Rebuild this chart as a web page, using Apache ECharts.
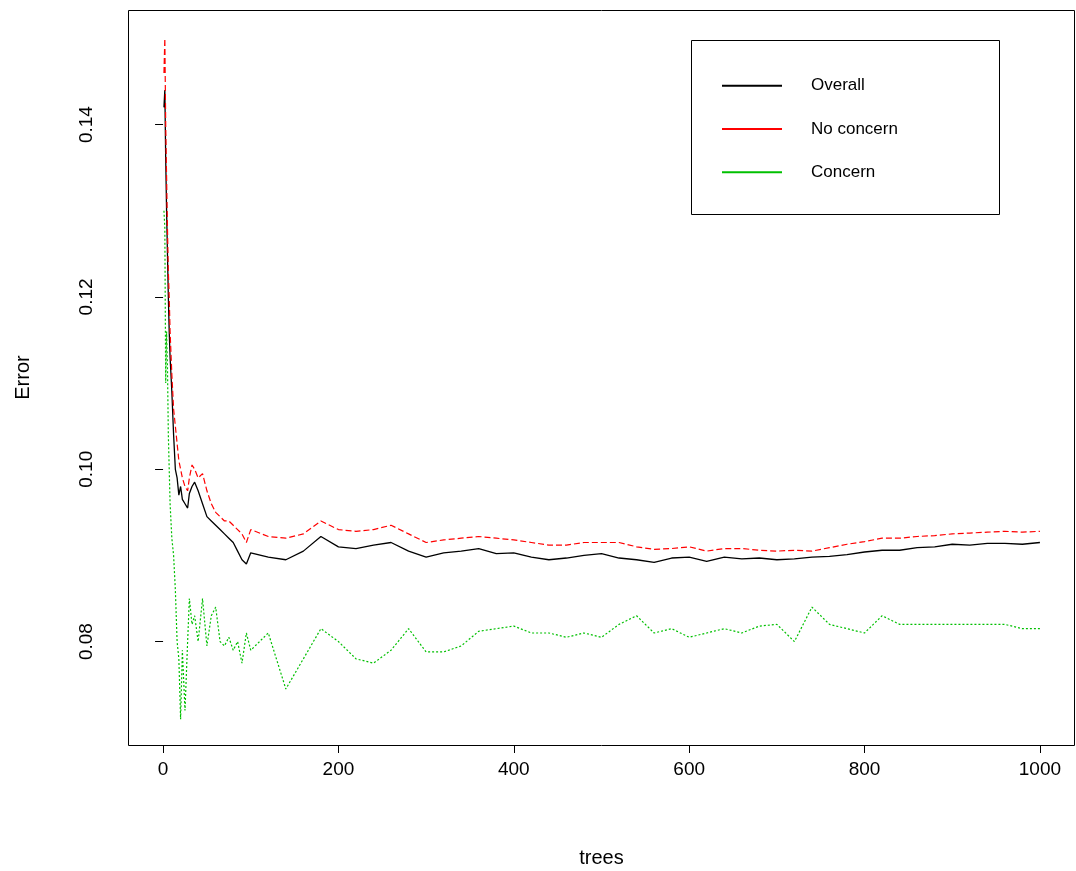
<html>
<head>
  <title>Error vs trees</title>
  <script src="https://cdn.jsdelivr.net/npm/echarts@6/dist/echarts.min.js"></script>
  <style>
    html, body { width: 100%; height: 100%; margin: 0; background: #fff; }
    #chart { width: 1076px; height: 871px; }
  </style>
</head>
<body>
  <div id="chart"></div>
  <script>
    var trees = [1,2,3,4,5,6,7,8,10,12,14,16,18,20,22,25,28,30,33,36,40,45,50,55,60,65,70,75,80,85,90,95,100,
      120,140,160,180,200,220,240,260,280,300,320,340,360,380,400,420,440,460,480,500,520,540,560,580,600,
      620,640,660,680,700,720,740,760,780,800,820,840,860,880,900,920,940,960,980,1000];

    var overall = [0.142,0.144,0.136,0.130,0.125,0.120,0.116,0.113,0.109,0.104,0.100,0.099,0.097,0.098,0.0965,0.096,0.0955,0.0972,0.098,0.0985,0.0975,0.096,0.0945,0.094,0.0935,0.093,0.0925,0.092,0.0915,0.0905,0.0895,0.089,0.0903,
      0.0898,0.0895,0.0905,0.0922,0.091,0.0908,0.0912,0.0915,0.0905,0.0898,0.0903,0.0905,0.0908,0.0902,0.0903,0.0898,0.0895,0.0897,0.090,0.0902,0.0897,0.0895,0.0892,0.0897,0.0898,
      0.0893,0.0898,0.0896,0.0897,0.0895,0.0896,0.0898,0.0899,0.0901,0.0904,0.0906,0.0906,0.0909,0.091,0.0913,0.0912,0.0914,0.0914,0.0913,0.0915];

    var noConcern = [0.146,0.150,0.140,0.134,0.128,0.123,0.120,0.116,0.111,0.107,0.105,0.103,0.101,0.100,0.099,0.098,0.0975,0.099,0.1005,0.100,0.099,0.0995,0.0975,0.096,0.095,0.0945,0.094,0.094,0.0935,0.093,0.0925,0.0915,0.093,
      0.0922,0.092,0.0925,0.094,0.093,0.0928,0.093,0.0935,0.0925,0.0915,0.0918,0.092,0.0922,0.092,0.0918,0.0915,0.0912,0.0912,0.0915,0.0915,0.0915,0.091,0.0907,0.0908,0.091,
      0.0905,0.0908,0.0908,0.0906,0.0905,0.0906,0.0905,0.0909,0.0913,0.0916,0.092,0.092,0.0922,0.0923,0.0925,0.0926,0.0927,0.0928,0.0927,0.0928];

    var concern = [0.130,0.128,0.110,0.116,0.112,0.104,0.100,0.096,0.092,0.090,0.086,0.080,0.078,0.071,0.079,0.072,0.080,0.085,0.082,0.083,0.080,0.085,0.0795,0.083,0.084,0.080,0.0795,0.0805,0.079,0.080,0.0775,0.081,0.079,
      0.081,0.0745,0.078,0.0815,0.080,0.078,0.0775,0.079,0.0815,0.0788,0.0788,0.0795,0.0812,0.0815,0.0818,0.081,0.081,0.0805,0.081,0.0805,0.082,0.083,0.081,0.0815,0.0805,
      0.081,0.0815,0.081,0.0818,0.082,0.080,0.084,0.082,0.0815,0.081,0.083,0.082,0.082,0.082,0.082,0.082,0.082,0.082,0.0815,0.0815,0.081];

    var xTicks = [0, 200, 400, 600, 800, 1000];
    var yTicks = [0.08, 0.10, 0.12, 0.14];

    function pairs(ys) {
      return trees.map(function (t, i) { return [t, ys[i]]; });
    }

    var font = 'Liberation Sans, Arial, sans-serif';
    var myChart = echarts.init(document.getElementById('chart'));

    var option = {
      animation: false,
      grid: { left: 128, right: 1, top: 10, bottom: 126, outerBoundsMode: 'none', containLabel: false },
      xAxis: {
        type: 'value', min: -40, max: 1040,
        name: 'trees', nameLocation: 'middle', nameGap: 96,
        nameTextStyle: { fontSize: 20, color: '#000', fontFamily: font },
        axisLine: { show: false },
        splitLine: { show: false },
        axisTick: { show: true, length: 8, lineStyle: { color: '#000' }, customValues: xTicks },
        axisLabel: { fontSize: 19, color: '#000', fontFamily: font, margin: 8, customValues: xTicks,
          formatter: function (v) { return String(v); } }
      },
      yAxis: {
        type: 'value', min: 0.068, max: 0.1533,
        name: 'Error', nameLocation: 'middle', nameGap: 87, nameRotate: 90,
        nameTextStyle: { fontSize: 20, color: '#000', fontFamily: font },
        axisLine: { show: false },
        splitLine: { show: false },
        axisTick: { show: true, length: 8, lineStyle: { color: '#000' }, customValues: yTicks },
        axisLabel: {
          fontSize: 19, color: '#000', fontFamily: font, margin: 25, rotate: 90,
          customValues: yTicks,
          formatter: function (v) { return v.toFixed(2); }
        }
      },
      legend: {
        orient: 'vertical', left: 717, top: 66,
        icon: 'rect', itemWidth: 60, itemHeight: 2, itemGap: 14,
        textStyle: { fontSize: 17, color: '#000', fontFamily: font, padding: [0, 0, 0, 24] },
        data: ['Overall', 'No concern', 'Concern']
      },
      graphic: [
        { type: 'rect', shape: { x: 128.5, y: 10.5, width: 946, height: 735 },
          style: { fill: 'none', stroke: '#000', lineWidth: 1 }, silent: true },
        { type: 'rect', shape: { x: 691.5, y: 40.5, width: 308, height: 174 },
          style: { fill: 'none', stroke: '#000', lineWidth: 1 }, silent: true }
      ],
      series: [
        { name: 'Overall', type: 'line', data: pairs(overall), showSymbol: false,
          color: '#000', lineStyle: { width: 1.3, color: '#000' } },
        { name: 'No concern', type: 'line', data: pairs(noConcern), showSymbol: false,
          color: '#ff0000', lineStyle: { width: 1.2, color: '#ff0000', type: [6, 3] } },
        { name: 'Concern', type: 'line', data: pairs(concern), showSymbol: false,
          color: '#00c000', lineStyle: { width: 1.2, color: '#00c000', type: [2, 2] } }
      ]
    };
    myChart.setOption(option);
  </script>
</body>
</html>
